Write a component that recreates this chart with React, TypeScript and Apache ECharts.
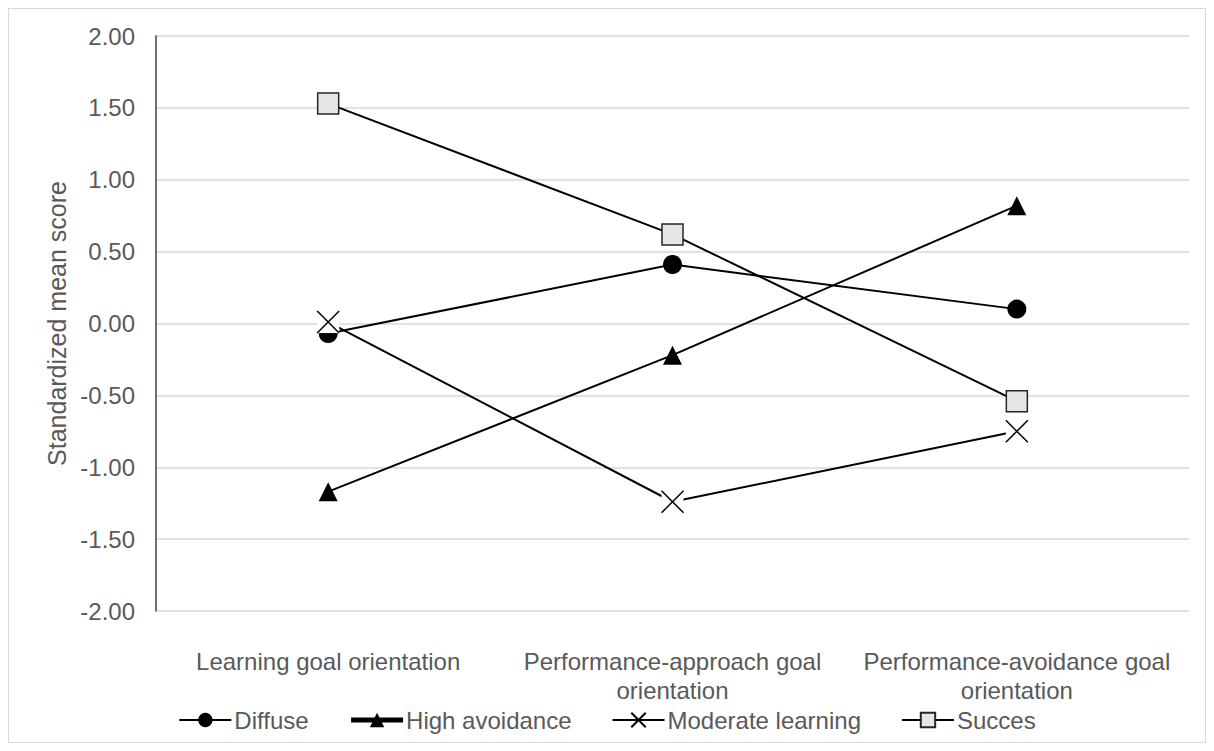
import React, { useEffect, useRef } from "react";
import * as echarts from "echarts";

const categories = [
  "Learning goal orientation",
  "Performance-approach goal\norientation",
  "Performance-avoidance goal\norientation",
];
const diffuse = [-0.07, 0.41, 0.1];
const highAvoidance = [-1.17, -0.22, 0.82];
const moderateLearning = [0.01, -1.24, -0.75];
const succes = [1.53, 0.62, -0.54];
const yTicks = { min: -2, max: 2, interval: 0.5 };

const FONT = "'Liberation Sans', Arial, sans-serif";
const TEXT = "#595959";
const FS = 24;

export default function App() {
  const ref = useRef<HTMLDivElement>(null);
  useEffect(() => {
    if (!ref.current) return;
    const chart = echarts.init(ref.current, undefined, { renderer: "svg" });
    const lineStyle = { color: "#000", width: 2 };
    chart.setOption({
      animation: false,
      textStyle: { fontFamily: FONT },
      grid: { left: 147, top: 27, width: 1033, height: 575 },
      legend: {
        left: "center",
        top: 694,
        itemWidth: 52,
        itemHeight: 18,
        itemGap: 40,
        textStyle: { fontSize: FS, color: TEXT, fontFamily: FONT, padding: [0, 0, 0, -2] },
        data: [
          { name: "Diffuse" },
          { name: "High avoidance", lineStyle: { width: 5 } },
          { name: "Moderate learning" },
          { name: "Succes" },
        ],
      },
      xAxis: {
        type: "category",
        data: categories,
        boundaryGap: true,
        axisLine: { show: false },
        axisTick: { show: false },
        axisLabel: {
          fontSize: FS,
          color: TEXT,
          fontFamily: FONT,
          lineHeight: 29,
          margin: 36,
          interval: 0,
        },
      },
      yAxis: {
        type: "value",
        min: yTicks.min,
        max: yTicks.max,
        interval: yTicks.interval,
        name: "Standardized mean score",
        nameLocation: "middle",
        nameGap: 81,
        nameTextStyle: { fontSize: 25, color: TEXT, fontFamily: FONT },
        axisLine: { show: true, lineStyle: { color: "#404040", width: 1.5 } },
        axisTick: { show: false },
        splitLine: { lineStyle: { color: "#d9d9d9", width: 1.5 } },
        axisLabel: {
          fontSize: FS,
          color: TEXT,
          fontFamily: FONT,
          margin: 21,
          formatter: (v: number) => v.toFixed(2),
        },
      },
      series: [
        {
          name: "Diffuse",
          type: "line",
          data: diffuse,
          symbol: "circle",
          symbolSize: 19,
          lineStyle,
          itemStyle: { color: "#000" },
        },
        {
          name: "High avoidance",
          type: "line",
          data: highAvoidance,
          symbol: "triangle",
          symbolSize: 19,
          lineStyle,
          itemStyle: { color: "#000" },
        },
        {
          name: "ml-bg",
          type: "line",
          data: moderateLearning,
          symbol: "rect",
          symbolSize: 22,
          silent: true,
          lineStyle: { width: 0, opacity: 0 },
          itemStyle: { color: "#fff", borderWidth: 0 },
        },
        {
          name: "Moderate learning",
          type: "line",
          data: moderateLearning,
          symbol: "path://M0,0L10,10M10,0L0,10",
          symbolSize: 22,
          lineStyle,
          itemStyle: { color: "none", borderColor: "#000", borderWidth: 1.5 },
        },
        {
          name: "Succes",
          type: "line",
          data: succes,
          symbol: "rect",
          symbolSize: 21,
          lineStyle,
          itemStyle: { color: "#e6e6e6", borderColor: "#262626", borderWidth: 1.5 },
        },
      ],
    });
    return () => chart.dispose();
  }, []);
  return (
    <div
      style={{
        width: 1198,
        height: 735,
        border: "1px solid #d9d9d9",
        boxSizing: "border-box",
      }}
    >
      <div ref={ref} style={{ width: 1196, height: 733 }} />
    </div>
  );
}
